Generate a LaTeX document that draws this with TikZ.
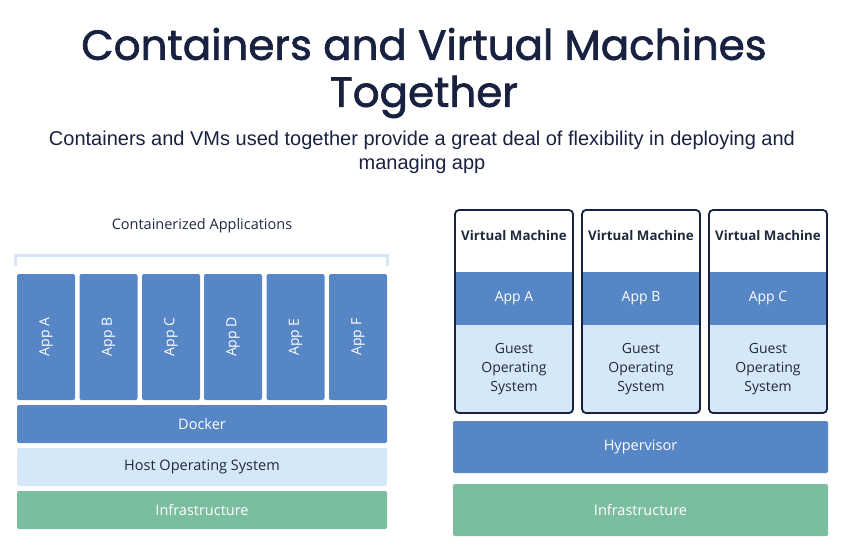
\documentclass[tikz,border=0pt]{standalone}
\usepackage{fontspec}
\setmainfont{Open Sans}
\newfontfamily\titlefont[FakeBold=1.6]{Poppins}
\newfontfamily\subfont{Liberation Sans}
\definecolor{navy}{HTML}{18213F}
\definecolor{appblue}{HTML}{5686C6}
\definecolor{lightblue}{HTML}{D6E7F8}
\definecolor{infragreen}{HTML}{7BBD9F}
\definecolor{textdark}{HTML}{1F2A3F}
\tikzset{
  layer/.style={rounded corners=2pt, inner sep=0pt, font=\fontsize{14.5}{17}\selectfont},
  bluelayer/.style={layer, fill=appblue, text=white},
  lightlayer/.style={layer, fill=lightblue, text=textdark},
  greenlayer/.style={layer, fill=infragreen, text=white},
  appbox/.style={bluelayer, minimum width=58pt, minimum height=126pt},
  applabel/.style={rotate=90, text=white, font=\fontsize{14}{16}\selectfont},
  vmtext/.style={font=\fontsize{14}{16}\selectfont, align=center, inner sep=0pt},
}
\begin{document}
\begin{tikzpicture}[x=1pt,y=-1pt]
\useasboundingbox (0,0) rectangle (850,552);
% titles
\node[font=\titlefont\fontsize{42}{47}\selectfont, text=navy, align=center] (title) at (424,73) {Containers and Virtual Machines\\Together};
\node[font=\subfont\fontsize{20}{24}\selectfont, text=navy, align=center] (sub) at (422,152) {Containers and VMs used together provide a great deal of flexibility in deploying and\\managing app};
% left side
\node[text=textdark, font=\fontsize{14.5}{17}\selectfont] (ca) at (202,226) {Containerized Applications};
\draw[lightblue, line width=3pt] (15.5,266) |- (387.5,255.5) -- (387.5,266);
\foreach \n/\x/\l in {a/46/A, b/108.5/B, c/171/C, d/233/D, e/295.5/E, f/358/F}{
  \node[appbox] (app\n) at (\x,337) {};
  \node[applabel] (lab\n) at (app\n) {App \l};
}
\node[bluelayer, minimum width=370pt, minimum height=38pt] (docker) at (202,424) {Docker};
\node[lightlayer, minimum width=370pt, minimum height=38pt] (hostos) at (202,467) {Host Operating System};
\node[greenlayer, minimum width=370pt, minimum height=38pt] (infraL) at (202,510) {Infrastructure};
% right side
\foreach \n/\x/\l in {1/514/A, 2/641/B, 3/768/C}{
  \begin{scope}
    \clip[rounded corners=4pt] (\x-59,210) rectangle (\x+59,413);
    \fill[white] (\x-60,209) rectangle (\x+60,272);
    \fill[appblue] (\x-60,272) rectangle (\x+60,325);
    \fill[lightblue] (\x-60,325) rectangle (\x+60,414);
  \end{scope}
  \node[draw=navy, line width=1.8pt, rounded corners=4pt, minimum width=118pt, minimum height=203pt, inner sep=0pt] (vm\n) at (\x,311.5) {};
  \node[vmtext, text=textdark, font=\bfseries\fontsize{13.3}{16}\selectfont] (vmh\n) at (\x,236) {Virtual Machine};
  \node[vmtext, text=white] (vma\n) at (\x,298) {App \l};
  \node[vmtext, text=textdark, font=\fontsize{14}{19}\selectfont] (vmg\n) at (\x,369) {Guest\\Operating\\System};
}
\node[bluelayer, minimum width=375pt, minimum height=52pt] (hyper) at (640.5,447) {Hypervisor};
\node[greenlayer, minimum width=375pt, minimum height=52pt] (infraR) at (640.5,510) {Infrastructure};
\end{tikzpicture}
\end{document}
